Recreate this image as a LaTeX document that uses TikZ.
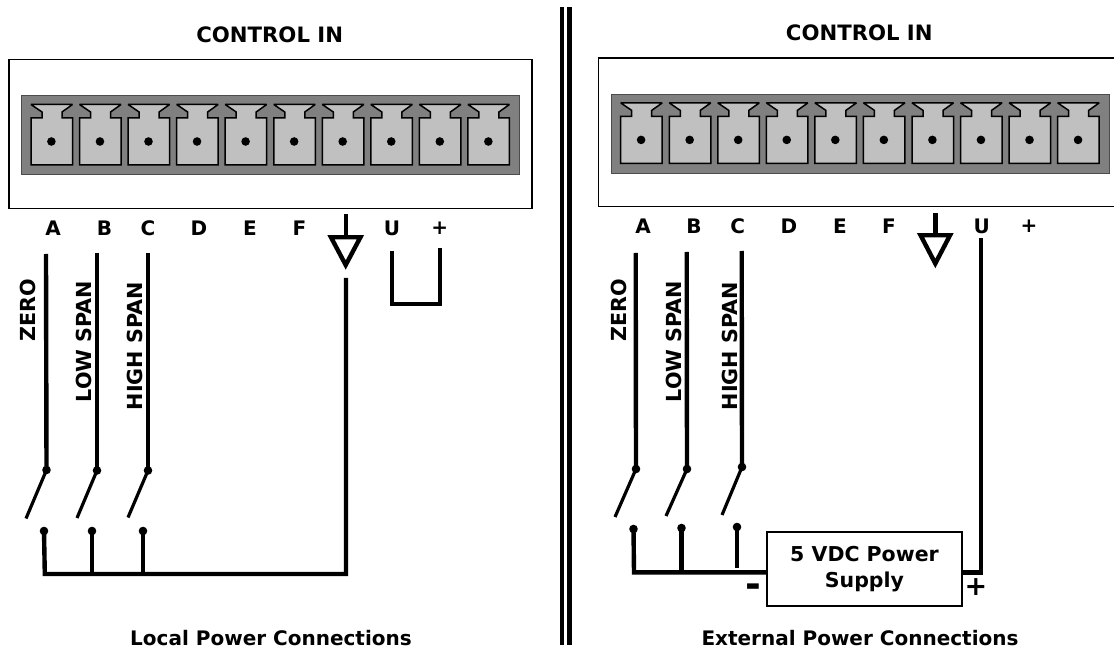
\documentclass[tikz,border=0pt]{standalone}
\usepackage{fontspec}
\setmainfont{DejaVu Sans}
\tikzset{
  x=1pt,y=-1pt,
  panel/.style={draw=black,line width=1.3pt,fill=white},
  strip/.style={draw=black!70,line width=1pt,fill=stripgray},
  cellbody/.style={draw=black,line width=1.5pt,fill=cellgray,line join=miter,miter limit=3},
  wire/.style={draw=black,line width=4.4pt,line join=miter},
  blade/.style={draw=black,line width=3.2pt},
  pin/.style={circle,fill=black,inner sep=0pt,minimum size=#1},
  lab/.style={font=\fontsize{20}{24}\selectfont\bfseries,inner sep=0pt},
  head/.style={font=\fontsize{21.2}{24}\selectfont\bfseries,inner sep=0pt},
  vlab/.style={font=\fontsize{20.7}{24}\selectfont\bfseries,inner sep=0pt,rotate=90},
  pwrbox/.style={draw=black,line width=1.2pt,fill=white,align=center,font=\fontsize{20.5}{26}\selectfont\bfseries,inner sep=0pt},
  gnd/.style={draw=black,line width=4.4pt,fill=white,line join=miter}
}
\definecolor{stripgray}{HTML}{808080}
\definecolor{cellgray}{HTML}{C0C0C0}
\newcommand{\cellrow}[3]{%
  \foreach \k in {0,...,9}{%
    \pgfmathsetmacro{\cx}{#1+\k*#3}
    \begin{scope}[shift={(\cx,#2)}]
      \draw[cellbody] (0,0) -- (41.5,0) -- (31,7.5) -- (31,13.5) -- (41.5,13.5) -- (41.5,60.5) -- (0,60.5) -- (0,13.5) -- (11,13.5) -- (11,7.5) -- cycle;
      \node[pin=8.6pt] at (20.4,37) {};
    \end{scope}}}
\begin{document}
\begin{tikzpicture}
\useasboundingbox (0,0) rectangle (1114,652);
\fill[white] (0,0) rectangle (1114,652);
% divider
\coordinate (d1t) at (562,7); \coordinate (d1b) at (562,645);
\coordinate (d2t) at (569.5,7); \coordinate (d2b) at (569.5,645);
\draw[line width=4.2pt] (d1t) -- (d1b);
\draw[line width=4.2pt] (d2t) -- (d2b);
% LEFT
\node[head] (ltitle) at (269.7,34.5) {CONTROL IN};
\node[panel,minimum width=523pt,minimum height=148.6pt,inner sep=0pt] (lpanel) at (270.5,134) {};
\node[strip,minimum width=498pt,minimum height=79pt,inner sep=0pt] (lstrip) at (270.3,135.5) {};
\cellrow{31}{104.5}{48.55}
\node[lab] (la) at (53,228.7) {A};
\node[lab] (lb) at (104.5,228.7) {B};
\node[lab] (lc) at (148,228.7) {C};
\node[lab] (ld) at (199,228.7) {D};
\node[lab] (le) at (250,228.7) {E};
\node[lab] (lf) at (299.5,228.7) {F};
\node[lab] (lu) at (392,228.7) {U};
\node[lab] (lp) at (439.7,228.7) {+};
\node[vlab] at (28,310) {ZERO};
\node[vlab] at (84,341.5) {LOW SPAN};
\node[vlab] at (135,346) {HIGH SPAN};
% left wires
\node[pin=8.6pt] (ls1) at (46.5,470) {};
\node[pin=8.6pt] (ls2) at (97,470.5) {};
\node[pin=8.6pt] (ls3) at (148,470.5) {};
\node[pin=8.6pt] (lc1) at (44,531) {};
\node[pin=8.6pt] (lc2) at (92,531) {};
\node[pin=8.6pt] (lc3) at (143,531) {};
\coordinate (lw1) at (46,254); \coordinate (lw2) at (97,253); \coordinate (lw3) at (148,253);
\coordinate (lb1) at (26,518.5); \coordinate (lb2) at (77,518); \coordinate (lb3) at (128,517.5);
\draw[wire] (lw1) -- (ls1.center);
\draw[wire] (lw2) -- (ls2.center);
\draw[wire] (lw3) -- (ls3.center);
\draw[blade] (ls1.center) -- (lb1);
\draw[blade] (ls2.center) -- (lb2);
\draw[blade] (ls3.center) -- (lb3);
\coordinate (lbus) at (44.8,574); \coordinate (lbusr) at (346,574); \coordinate (lgw) at (346,278);
\draw[wire] (lc1.center) -- (lbus) -- (lbusr) -- (lgw);
\draw[wire] (lc2.center) -- (lc2.center |- lbus);
\draw[wire] (lc3.center) -- (lc3.center |- lbus);
\coordinate (lgs) at (345.7,214.3); \coordinate (lgt) at (345.7,237);
\draw[wire] (lgs) -- (lgt);
\draw[gnd] (331,237.3) -- (360.4,237.3) -- (345.7,265) -- cycle;
\coordinate (lu1) at (392,251); \coordinate (lu2) at (392,304); \coordinate (lu3) at (440,304); \coordinate (lu4) at (440,248);
\draw[wire] (lu1) -- (lu2) -- (lu3) -- (lu4);
\node[lab] (lcap) at (271,638.5) {Local Power Connections};
% RIGHT
\node[head] (rtitle) at (859.3,32.5) {CONTROL IN};
\node[panel,minimum width=530pt,minimum height=148.6pt,inner sep=0pt] (rpanel) at (863.7,132.4) {};
\node[strip,minimum width=498pt,minimum height=79pt,inner sep=0pt] (rstrip) at (860,134) {};
\cellrow{620.7}{102.9}{48.55}
\node[lab] (ra) at (643,226.7) {A};
\node[lab] (rb) at (694,226.7) {B};
\node[lab] (rc) at (737.7,226.7) {C};
\node[lab] (rd) at (789,226.7) {D};
\node[lab] (re) at (840,226.7) {E};
\node[lab] (rf) at (889,226.7) {F};
\node[lab] (ru) at (981.7,226.7) {U};
\node[lab] (rp) at (1029,226.7) {+};
\node[vlab] at (618.5,310) {ZERO};
\node[vlab] at (674,341.5) {LOW SPAN};
\node[vlab] at (729.5,346) {HIGH SPAN};
\node[pin=8.6pt] (rs1) at (636,469) {};
\node[pin=8.6pt] (rs2) at (687,469) {};
\node[pin=8.6pt] (rs3) at (742,467) {};
\node[pin=8.6pt] (rc1) at (633.5,529) {};
\node[pin=8.6pt] (rc2) at (681.5,528) {};
\node[pin=8.6pt] (rc3) at (737,527) {};
\coordinate (rw1) at (635.7,253); \coordinate (rw2) at (686.7,252); \coordinate (rw3) at (741.7,251);
\coordinate (rb1) at (615,517); \coordinate (rb2) at (666,516); \coordinate (rb3) at (722,515);
\draw[wire] (rw1) -- (rs1.center);
\draw[wire] (rw2) -- (rs2.center);
\draw[wire] (rw3) -- (rs3.center);
\draw[blade] (rs1.center) -- (rb1);
\draw[blade] (rs2.center) -- (rb2);
\draw[blade] (rs3.center) -- (rb3);
\node[pwrbox,minimum width=195pt,minimum height=74pt] (psu) at (864.5,569) {5 VDC Power\\Supply};
\coordinate (rbus) at (634,572.3);
\draw[wire] (rc1.center) -- (rbus) -- (rbus -| psu.west);
\draw[wire] (rc2.center) -- (rc2.center |- rbus);
\coordinate (rc3e) at (737,568);
\draw[wire] (rc3.center) -- (rc3e);
\coordinate (rcorner) at (981,572.3); \coordinate (ru1) at (981,238);
\draw[wire] (rcorner -| psu.east) -- (rcorner) -- (ru1);
\coordinate (rgs) at (935.3,213); \coordinate (rgt) at (935.3,235);
\draw[wire] (rgs) -- (rgt);
\draw[gnd] (920.6,235.3) -- (950,235.3) -- (935.3,263.5) -- cycle;
\node[font=\fontsize{38}{40}\selectfont\bfseries,inner sep=0pt] (rminus) at (753.5,590.7) {-};
\node[font=\fontsize{27}{30}\selectfont\bfseries,inner sep=0pt] (rplus) at (976,587) {+};
\node[lab] (rcap) at (860,638.5) {External Power Connections};
\end{tikzpicture}
\end{document}
